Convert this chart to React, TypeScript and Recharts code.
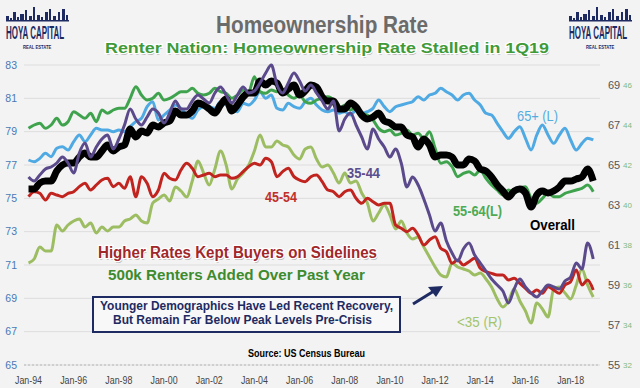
import React from 'react';
import { LineChart, Line, XAxis, YAxis, CartesianGrid } from 'recharts';

// quarterly, 1Q94 .. 1Q19
const overall = [
  63.8, 63.8, 64.1, 64.2, 64.2, 64.7, 65.0, 65.1, 65.1, 65.4, 65.6, 65.4,
  65.4, 65.7, 66.0, 65.7, 65.9, 66.0, 66.8, 66.4, 66.7, 66.6, 67.0, 66.9,
  67.1, 67.2, 67.7, 67.5, 67.5, 67.7, 68.1, 68.0, 67.8, 67.6, 68.0, 68.3,
  67.7, 68.0, 68.4, 68.6, 68.6, 69.2, 69.0, 69.2, 69.1, 68.6, 68.8, 69.0,
  68.5, 68.7, 69.0, 68.9, 68.4, 68.2, 68.2, 67.8, 67.8, 68.1, 67.9, 67.5,
  67.3, 67.4, 67.6, 67.2, 67.1, 66.9, 66.9, 66.5, 66.4, 65.9, 66.3, 66.0,
  65.4, 65.5, 65.5, 65.4, 65.0, 65.0, 65.3, 65.2, 64.8, 64.7, 64.4, 64.0,
  63.7, 63.4, 63.7, 63.8, 63.6, 62.9, 63.5, 63.7, 63.6, 63.7, 63.9, 64.2,
  64.2, 64.3, 64.4, 64.8, 64.2,
];

const age65plus = [
  77.3, 77.2, 77.4, 77.7, 77.5, 78.0, 78.1, 77.9, 78.4, 78.8, 78.4, 78.8,
  79.2, 79.1, 79.1, 79.0, 79.1, 79.0, 79.3, 79.6, 79.8, 80.5, 80.8, 79.7,
  80.0, 80.3, 80.6, 80.4, 80.0, 79.8, 80.3, 80.5, 80.5, 80.4, 80.8, 80.6,
  80.3, 80.2, 80.7, 80.6, 80.9, 81.4, 81.0, 81.2, 80.4, 80.3, 80.7, 80.5,
  80.4, 80.8, 81.0, 80.6, 80.3, 80.2, 80.3, 80.1, 80.2, 80.0, 80.3, 80.1,
  80.2, 80.4, 80.9, 80.5, 80.2, 80.5, 80.6, 80.7, 80.8, 81.1, 80.9, 81.2,
  81.3, 81.6, 81.4, 81.2, 80.9, 81.2, 81.3, 80.9, 80.6, 80.1, 80.0, 79.5,
  79.0, 78.6, 79.0, 79.3, 78.6, 77.9, 78.8, 79.4, 78.8, 78.3, 78.8, 79.2,
  78.5, 77.9, 78.3, 78.6, 78.5,
];

const age55to64 = [
  79.2, 79.4, 79.5, 79.2, 79.4, 79.8, 79.4, 79.6, 80.2, 80.0, 79.8, 80.1,
  79.6, 80.3, 80.1, 80.3, 80.4, 80.4, 81.0, 81.7, 81.2, 80.9, 81.0, 81.3,
  80.9, 81.0, 81.2, 81.4, 81.4, 81.6, 81.3, 81.2, 81.3, 81.6, 81.4, 81.3,
  81.0, 81.2, 81.5, 81.4, 82.3, 81.4, 81.3, 81.5, 81.4, 81.5, 81.2, 81.0,
  81.2, 80.8, 80.7, 80.9, 81.0, 81.1, 80.9, 80.3, 80.6, 80.3, 80.5, 80.1,
  80.0, 79.7, 79.2, 79.0, 79.1, 78.8, 78.9, 79.1, 78.8, 78.9, 78.6, 79.0,
  78.0, 77.1, 77.2, 76.9, 76.3, 76.5, 76.6, 76.4, 76.7, 76.2, 75.8, 75.5,
  75.2, 75.5, 75.3, 75.6, 75.7, 75.0, 74.7, 75.0, 75.3, 75.1, 75.1, 75.3,
  75.4, 75.5, 75.6, 75.8, 75.4,
];

const age45to54 = [
  75.1, 75.4, 75.3, 74.9, 75.3, 75.2, 75.1, 75.3, 75.4, 75.7, 75.9, 75.5,
  75.8, 76.1, 76.2, 75.7, 75.9, 75.6, 76.3, 75.1, 76.3, 75.9, 75.1, 75.5,
  76.5, 76.2, 76.1, 76.7, 77.1, 76.8, 76.3, 76.4, 76.5, 76.3, 76.4, 76.4,
  76.2, 76.3, 76.6, 76.9, 77.1, 77.0, 77.4, 77.2, 76.3, 76.6, 76.8, 76.3,
  76.1, 76.0, 76.3, 76.4, 76.0, 75.5, 75.4, 75.1, 75.4, 75.5, 75.0, 74.7,
  75.0, 74.8, 74.6, 74.7, 74.7, 73.4, 73.2, 73.0, 73.2, 72.8, 72.2, 72.5,
  72.7, 72.0, 71.8, 71.1, 71.3, 71.0, 71.2, 71.4, 70.8, 70.6, 70.5, 70.4,
  70.4, 70.1, 70.2, 69.9, 69.6, 69.3, 69.5, 69.3, 69.7, 69.5, 69.3, 69.8,
  70.0, 70.7, 69.8, 70.1, 69.5,
];

const age35to44 = [
  64.4, 64.2, 64.5, 64.8, 64.9, 65.1, 65.4, 65.1, 64.6, 65.6, 66.1, 65.4,
  65.9, 66.3, 66.5, 65.8, 66.3, 67.0, 67.8, 67.3, 67.0, 67.4, 67.8, 67.6,
  67.1, 67.6, 68.2, 67.8, 67.8, 68.2, 68.5, 68.3, 68.1, 68.6, 68.9, 68.5,
  68.1, 68.5, 68.9, 68.6, 68.7, 69.1, 69.6, 70.0, 69.0, 68.6, 69.1, 69.6,
  69.2, 68.7, 69.0, 68.6, 68.2, 67.8, 68.2, 66.7, 67.3, 67.6, 67.0, 66.4,
  65.8, 66.8, 66.3, 65.9, 65.4, 65.8, 65.1, 63.9, 64.4, 64.0, 63.3, 62.5,
  61.7, 62.1, 61.2, 60.6, 60.2, 60.8, 61.1, 60.5, 60.1, 59.7, 59.3, 59.0,
  58.7, 58.1, 58.8, 59.3, 58.9, 58.6, 58.4, 58.7, 59.0, 58.9, 58.8, 59.2,
  59.4, 60.1, 59.8, 61.1, 60.3,
];

const under35 = [
  37.1, 37.3, 37.9, 37.7, 37.7, 39.0, 38.7, 39.0, 39.2, 39.3, 38.9, 39.1,
  38.6, 38.9, 38.7, 38.9, 38.9, 39.2, 39.3, 39.5, 39.2, 39.1, 40.1, 40.3,
  40.5, 40.2, 40.9, 40.7, 40.4, 41.2, 42.2, 41.6, 41.0, 41.8, 42.7, 42.0,
  40.8, 41.3, 41.6, 42.0, 42.7, 43.5, 42.9, 42.9, 43.2, 43.0, 42.9, 42.5,
  42.3, 42.8, 42.9, 42.3, 41.9, 42.0, 41.6, 41.1, 41.6, 41.1, 41.2, 40.6,
  40.1, 39.2, 39.6, 40.0, 39.5, 38.8, 39.2, 38.6, 38.3, 38.4, 37.9, 37.4,
  36.9, 36.5, 36.4, 37.1, 36.9, 36.8, 36.7, 36.5, 36.6, 36.3, 35.9, 35.3,
  34.9, 35.2, 35.8, 35.2, 34.7, 34.1, 35.1, 34.8, 34.4, 35.8, 35.9, 35.6,
  35.3, 36.0, 36.8, 36.0, 35.4,
];

const xTicks = [1994, 1996, 1998, 2000, 2002, 2004, 2006, 2008, 2010, 2012, 2014, 2016, 2018];
const leftTicks = [65, 67, 69, 71, 73, 75, 77, 79, 81, 83];
const rightTicks = [55, 57, 59, 61, 63, 65, 67, 69];
const youngTicks = [32, 34, 36, 38, 40, 42, 44, 46];

const data = overall.map((v, i) => ({
  t: 1994 + i / 4,
  overall: v,
  a65: age65plus[i],
  a55: age55to64[i],
  a45: age45to54[i],
  a35: age35to44[i],
  u35: under35[i],
}));

const NAVY = '#1e2b63';
const FONT = 'Liberation Sans, Arial, sans-serif';

const XTick = (props: any) => {
  const { x, y, payload } = props;
  return (
    <text x={x} y={y} dy="0.71em" textAnchor="middle" fontSize={11} fontFamily={FONT}
      fill="#444" textLength={27} lengthAdjust="spacingAndGlyphs">
      {'Jan-' + String(payload.value).slice(2)}
    </text>
  );
};

const LeftTick = (props: any) => {
  const { x, y, payload } = props;
  return (
    <text x={x} y={y} dy="0.355em" textAnchor="end" fontSize={10.5} fontFamily={FONT} fill="#4a78b5">
      {payload.value}
    </text>
  );
};

const RightTick = (props: any) => {
  const { x, y, payload } = props;
  return (
    <text x={x} y={y} dy="0.355em" textAnchor="start" fontSize={11} fontFamily={FONT} fill="#555">
      {payload.value}
    </text>
  );
};

const YoungTick = (props: any) => {
  const { x, y, payload } = props;
  return (
    <text x={x} y={y} dy="0.355em" textAnchor="start" fontSize={8} fontFamily={FONT} fill="#82b982">
      {payload.value}
    </text>
  );
};

const buildings = [
  [0, 3, 5], [4, 2, 3], [7, 3, 9], [11, 2, 4], [14, 4, 7], [19, 2, 11], [23, 3, 5],
  [27, 2, 14], [31, 3, 6], [35, 2, 4], [39, 3, 9], [43, 2, 12], [47, 3, 5], [52, 2, 9], [56, 3, 12], [60, 2, 6],
];

function Logo({ x }: { x: number }) {
  // condensed lettering: scale the text horizontally
  return (
    <g fill={NAVY}>
      {buildings.map(([dx, w, h], i) => (
        <rect key={i} x={x + dx} y={21 - h} width={w} height={h} />
      ))}
      <rect x={x} y={20} width={63} height={1.5} />
      <g transform={`translate(${x},0) scale(0.42,1)`}>
        <text x={0} y={39} fontSize={19} fontWeight={700} fontFamily={FONT}>HOYA CAPITAL</text>
      </g>
      <g transform={`translate(${x + 17},0) scale(0.7,1)`}>
        <text x={0} y={49} fontSize={6} fontWeight={700} fontFamily={FONT}>REAL ESTATE</text>
      </g>
    </g>
  );
}

function Label({ x, y, w, size, color, text, weight = 700 }: any) {
  return (
    <text x={x} y={y} fontSize={size} fontWeight={weight} fontFamily={FONT} fill={color}
      textLength={w} lengthAdjust="spacingAndGlyphs">{text}</text>
  );
}

function Outlined({ x, y, w, size, color, text }: any) {
  return (
    <g fontSize={size} fontWeight={700} fontFamily={FONT}>
      <text x={x + 1} y={y + 1.5} fill="#000" opacity={0.25} textLength={w} lengthAdjust="spacingAndGlyphs">{text}</text>
      <text x={x} y={y} fill={color} stroke="#fff" strokeWidth={2.5} paintOrder="stroke"
        textLength={w} lengthAdjust="spacingAndGlyphs">{text}</text>
    </g>
  );
}

export default function App() {
  return (
    <div style={{ position: 'absolute', left: 0, top: 0, width: 640, height: 388, background: '#f3f3f3' }}>
      <LineChart width={640} height={388} data={data} margin={{ top: 65, right: 0, bottom: 0, left: 0 }}>
        <CartesianGrid yAxisId="L" vertical={false} stroke="#dddddd" />
        <XAxis dataKey="t" type="number" domain={[1993.8, 2019.3]} ticks={xTicks} height={23}
          tickSize={0} tickMargin={11} tick={<XTick />}
          axisLine={{ stroke: '#cfcfcf', strokeDasharray: '2 2', strokeWidth: 2 }} />
        <YAxis yAxisId="L" orientation="left" domain={[65, 83]} ticks={leftTicks} width={24}
          tickSize={0} tickMargin={7} tick={<LeftTick />} axisLine={false} />
        <YAxis yAxisId="R" orientation="right" domain={[55, 70]} ticks={rightTicks} width={14}
          tickSize={0} tickMargin={8} tick={<RightTick />} axisLine={false} />
        <YAxis yAxisId="Y" orientation="right" domain={[32, 47]} ticks={youngTicks} width={26}
          tickSize={0} tickMargin={9} tick={<YoungTick />} axisLine={false} />

        <Line yAxisId="Y" dataKey="u35" type="monotone" stroke="#9dbd62" strokeWidth={3} dot={false} isAnimationActive={false} />
        <Line yAxisId="L" dataKey="a45" type="monotone" stroke="#c1231f" strokeWidth={3} dot={false} isAnimationActive={false} />
        <Line yAxisId="L" dataKey="a65" type="monotone" stroke="#4fa9e3" strokeWidth={3} dot={false} isAnimationActive={false} />
        <Line yAxisId="L" dataKey="a55" type="monotone" stroke="#3fa34e" strokeWidth={3} dot={false} isAnimationActive={false} />
        <Line yAxisId="R" dataKey="overall" type="monotone" stroke="#000" strokeWidth={7} dot={false} isAnimationActive={false} />
        <Line yAxisId="R" dataKey="a35" type="monotone" stroke="#5b4a8b" strokeWidth={3} dot={false} isAnimationActive={false} />
      </LineChart>

      <svg width={640} height={388} style={{ position: 'absolute', left: 0, top: 0, pointerEvents: 'none' }}>
        <Logo x={6} />
        <Logo x={569} />
        <text x={216} y={33} fontSize={23} fontWeight={700} fontFamily={FONT} fill="#6b6b6b"
          textLength={212} lengthAdjust="spacingAndGlyphs">Homeownership Rate</text>
        <Outlined x={105} y={53} w={444} size={15.5} color="#3f9a3a" text="Renter Nation: Homeownership Rate Stalled in 1Q19" />

        <Label x={517} y={121} w={41} size={15} color="#55acdf" weight={400} text="65+ (L)" />
        <Label x={347} y={178} w={33} size={14} color="#5b4e8c" text="35-44" />
        <Label x={265} y={202} w={32} size={14} color="#c0302a" text="45-54" />
        <Label x={453} y={216} w={49} size={14} color="#4daa55" text="55-64(L)" />
        <Label x={530} y={230} w={45} size={15} color="#000" text="Overall" />
        <Label x={457} y={327} w={45} size={15} color="#a3c46a" weight={400} text="<35 (R)" />

        <Outlined x={98} y={258} w={279} size={16} color="#a0282b" text="Higher Rates Kept Buyers on Sidelines" />
        <Label x={108} y={280} w={257} size={15} color="#3d8b2f" text="500k Renters Added Over Past Year" />

        <rect x={93} y={297} width={307} height={35} fill="#f8f8f8" stroke={NAVY} strokeWidth={2} />
        <Label x={100} y={310} w={293} size={12.5} color={NAVY} text="Younger Demographics Have Led Recent Recovery," />
        <Label x={113} y={324} w={259} size={12.5} color={NAVY} text="But Remain Far Below Peak Levels Pre-Crisis" />

        <line x1={413} y1={304} x2={434} y2={291} stroke={NAVY} strokeWidth={3} />
        <polygon points="443,286 428,287 436,297" fill={NAVY} />

        <Label x={248} y={357} w={117} size={10} color="#000" text="Source: US Census Bureau" />
      </svg>
    </div>
  );
}
